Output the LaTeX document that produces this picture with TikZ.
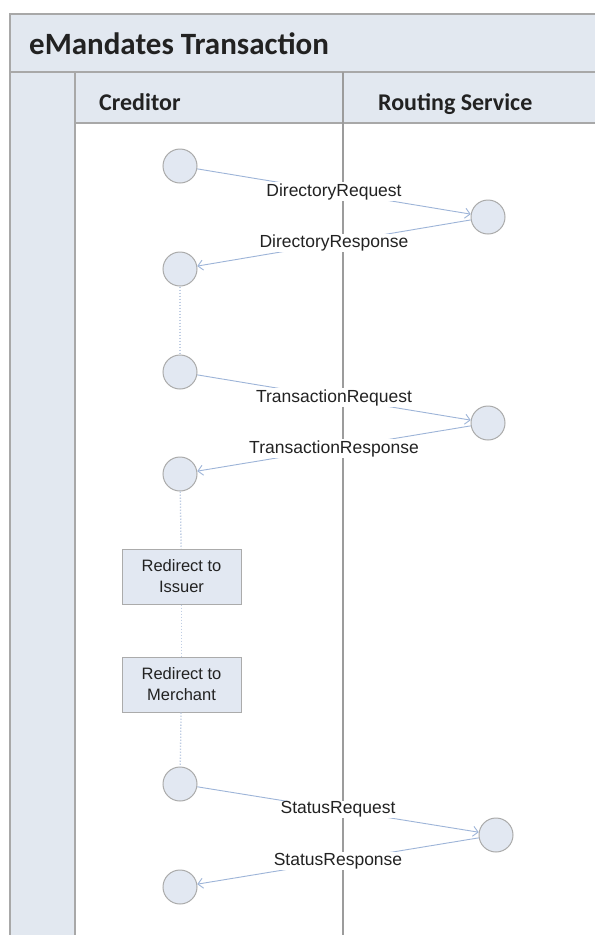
\documentclass[tikz,border=0pt]{standalone}
\usepackage{fontspec}
\setmainfont{Liberation Sans}
\newfontfamily\hdrfont{Carlito}
\usetikzlibrary{arrows.meta}
\definecolor{bandfill}{HTML}{E2E8F0}
\definecolor{framegray}{HTML}{A8A8A8}
\definecolor{divgray}{HTML}{9C9C9C}
\definecolor{evtfill}{HTML}{E2E8F2}
\definecolor{evtline}{HTML}{ABABAB}
\definecolor{msgblue}{HTML}{9DB4D8}
\definecolor{dotblue}{HTML}{BFCDE3}
\definecolor{txtdark}{HTML}{222222}
\begin{document}
\begin{tikzpicture}[x=1pt,y=-1pt,
  frameline/.style={draw=framegray,line width=1.4pt},
  divline/.style={draw=divgray,line width=1.3pt},
  evt/.style={circle,draw=evtline,fill=evtfill,line width=1pt,minimum size=34pt,inner sep=0pt},
  actbox/.style={rectangle,draw=evtline,fill=evtfill,line width=1pt,minimum width=119pt,minimum height=55pt,inner sep=1pt,align=center,text=txtdark,font=\fontsize{16.5}{21}\selectfont},
  msg/.style={draw=msgblue,line width=0.9pt,-{Straight Barb[length=5pt,width=10pt,line width=0.9pt]}},
  msglabel/.style={fill=white,inner sep=1pt,text=txtdark,font=\fontsize{17.5}{20}\selectfont},
  seqline/.style={draw=dotblue,line width=1.3pt,dash pattern=on 1.3pt off 1.7pt},
  hdr/.style={anchor=base west,text=txtdark,inner sep=0pt}
]
\useasboundingbox (0,0) rectangle (595,935);
\fill[white] (0,0) rectangle (595,935);
% bands
\fill[bandfill] (10,14) rectangle (595,123);
\fill[bandfill] (10,123) rectangle (75,935);
% frame lines
\draw[frameline] (595,14) -- (10,14) -- (10,935);
\draw[frameline] (10,72) -- (595,72);
\draw[frameline] (75,123) -- (595,123);
\draw[frameline] (75,72) -- (75,935);
\draw[divline] (343,72) -- (343,935);
% headers
\node[hdr,font=\hdrfont\bfseries\fontsize{31}{36}\selectfont] (title) at (29,54) {eMandates Transaction};
\node[hdr,font=\hdrfont\bfseries\fontsize{24}{28}\selectfont] (cred) at (99,110) {Creditor};
\node[hdr,font=\hdrfont\bfseries\fontsize{24}{28}\selectfont] (rout) at (378,110) {Routing Service};
% events
\node[evt] (c1) at (180,166) {};
\node[evt] (r1) at (488,217) {};
\node[evt] (c2) at (180,269) {};
\node[evt] (c3) at (180,372) {};
\node[evt] (r2) at (488,423) {};
\node[evt] (c4) at (180,474) {};
\node[actbox] (b1) at (181.5,576.5) {Redirect to\\Issuer};
\node[actbox] (b2) at (181.5,684.5) {Redirect to\\Merchant};
\node[evt] (c5) at (180,784) {};
\node[evt] (r3) at (496,835) {};
\node[evt] (c6) at (180,887) {};
% sequence lines
\draw[seqline] (c2) -- (c3);
\draw[seqline] (c4) -- (b1);
\draw[seqline] (b1) -- (b2);
\draw[seqline] (b2) -- (c5);
% messages
\draw[msg] (c1) -- node[msglabel] {DirectoryRequest} (r1);
\draw[msg] (r1) -- node[msglabel] {DirectoryResponse} (c2);
\draw[msg] (c3) -- node[msglabel] {TransactionRequest} (r2);
\draw[msg] (r2) -- node[msglabel] {TransactionResponse} (c4);
\draw[msg] (c5) -- node[msglabel] {StatusRequest} (r3);
\draw[msg] (r3) -- node[msglabel] {StatusResponse} (c6);
\end{tikzpicture}
\end{document}
